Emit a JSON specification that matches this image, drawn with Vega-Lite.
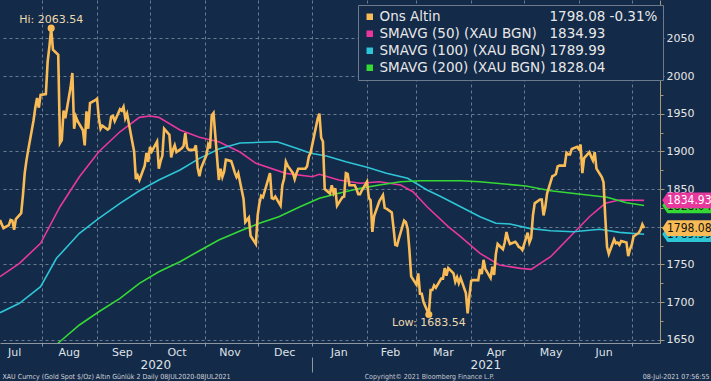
{
"$schema": "https://vega.github.io/schema/vega-lite/v6.json",
"width": 660, "height": 343,
"autosize": "none",
"padding": {"left": 0, "top": 0, "right": 51, "bottom": 38},
"background": "#132a49",
"config": {"view": {"stroke": null}, "font": "DejaVu Sans"},
"datasets": {
"gold": [
{"date":"2020-07-08","value":1809},{"date":"2020-07-09","value":1803},{"date":"2020-07-10","value":1798},{"date":"2020-07-13","value":1802},{"date":"2020-07-14","value":1809},{"date":"2020-07-15","value":1808},{"date":"2020-07-16","value":1796},{"date":"2020-07-17","value":1810},{"date":"2020-07-20","value":1818},{"date":"2020-07-21","value":1842},{"date":"2020-07-22","value":1871},{"date":"2020-07-23","value":1888},{"date":"2020-07-24","value":1902},{"date":"2020-07-27","value":1941},{"date":"2020-07-28","value":1958},{"date":"2020-07-29","value":1971},{"date":"2020-07-30","value":1958},{"date":"2020-07-31","value":1975},
{"date":"2020-08-03","value":1976},{"date":"2020-08-04","value":2019},{"date":"2020-08-05","value":2039},{"date":"2020-08-06","value":2063.54},{"date":"2020-08-07","value":2035},{"date":"2020-08-10","value":2028},{"date":"2020-08-11","value":1911},{"date":"2020-08-12","value":1915},{"date":"2020-08-13","value":1954},{"date":"2020-08-14","value":1944},{"date":"2020-08-17","value":1985},{"date":"2020-08-18","value":2004},{"date":"2020-08-19","value":1930},{"date":"2020-08-20","value":1946},{"date":"2020-08-21","value":1940},{"date":"2020-08-24","value":1928},{"date":"2020-08-25","value":1908},{"date":"2020-08-26","value":1953},{"date":"2020-08-27","value":1930},{"date":"2020-08-28","value":1964},{"date":"2020-08-31","value":1968},
{"date":"2020-09-01","value":1970},{"date":"2020-09-02","value":1944},{"date":"2020-09-03","value":1930},{"date":"2020-09-04","value":1934},{"date":"2020-09-07","value":1929},{"date":"2020-09-08","value":1931},{"date":"2020-09-09","value":1946},{"date":"2020-09-10","value":1947},{"date":"2020-09-11","value":1940},{"date":"2020-09-14","value":1956},{"date":"2020-09-15","value":1954},{"date":"2020-09-16","value":1959},{"date":"2020-09-17","value":1944},{"date":"2020-09-18","value":1950},{"date":"2020-09-21","value":1912},{"date":"2020-09-22","value":1900},{"date":"2020-09-23","value":1863},{"date":"2020-09-24","value":1868},{"date":"2020-09-25","value":1862},{"date":"2020-09-28","value":1881},{"date":"2020-09-29","value":1898},{"date":"2020-09-30","value":1886},
{"date":"2020-10-01","value":1906},{"date":"2020-10-02","value":1900},{"date":"2020-10-05","value":1913},{"date":"2020-10-06","value":1877},{"date":"2020-10-07","value":1887},{"date":"2020-10-08","value":1894},{"date":"2020-10-09","value":1930},{"date":"2020-10-12","value":1922},{"date":"2020-10-13","value":1892},{"date":"2020-10-14","value":1902},{"date":"2020-10-15","value":1908},{"date":"2020-10-16","value":1899},{"date":"2020-10-19","value":1904},{"date":"2020-10-20","value":1907},{"date":"2020-10-21","value":1924},{"date":"2020-10-22","value":1905},{"date":"2020-10-23","value":1902},{"date":"2020-10-26","value":1902},{"date":"2020-10-27","value":1908},{"date":"2020-10-28","value":1878},{"date":"2020-10-29","value":1867},{"date":"2020-10-30","value":1878},
{"date":"2020-11-02","value":1895},{"date":"2020-11-03","value":1909},{"date":"2020-11-04","value":1904},{"date":"2020-11-05","value":1948},{"date":"2020-11-06","value":1951},{"date":"2020-11-09","value":1862},{"date":"2020-11-10","value":1877},{"date":"2020-11-11","value":1866},{"date":"2020-11-12","value":1873},{"date":"2020-11-13","value":1889},{"date":"2020-11-16","value":1887},{"date":"2020-11-17","value":1880},{"date":"2020-11-18","value":1872},{"date":"2020-11-19","value":1866},{"date":"2020-11-20","value":1871},{"date":"2020-11-23","value":1837},{"date":"2020-11-24","value":1806},{"date":"2020-11-25","value":1809},{"date":"2020-11-26","value":1812},{"date":"2020-11-27","value":1788},{"date":"2020-11-30","value":1777},
{"date":"2020-12-01","value":1815},{"date":"2020-12-02","value":1831},{"date":"2020-12-03","value":1841},{"date":"2020-12-04","value":1839},{"date":"2020-12-07","value":1863},{"date":"2020-12-08","value":1871},{"date":"2020-12-09","value":1838},{"date":"2020-12-10","value":1837},{"date":"2020-12-11","value":1840},{"date":"2020-12-14","value":1828},{"date":"2020-12-15","value":1855},{"date":"2020-12-16","value":1864},{"date":"2020-12-17","value":1886},{"date":"2020-12-18","value":1881},{"date":"2020-12-21","value":1871},{"date":"2020-12-22","value":1863},{"date":"2020-12-23","value":1871},{"date":"2020-12-24","value":1877},{"date":"2020-12-28","value":1877},{"date":"2020-12-29","value":1880},{"date":"2020-12-30","value":1893},{"date":"2020-12-31","value":1898},
{"date":"2021-01-04","value":1943},{"date":"2021-01-05","value":1950},{"date":"2021-01-06","value":1918},{"date":"2021-01-07","value":1913},{"date":"2021-01-08","value":1850},{"date":"2021-01-11","value":1844},{"date":"2021-01-12","value":1855},{"date":"2021-01-13","value":1845},{"date":"2021-01-14","value":1851},{"date":"2021-01-15","value":1828},{"date":"2021-01-18","value":1839},{"date":"2021-01-19","value":1840},{"date":"2021-01-20","value":1871},{"date":"2021-01-21","value":1870},{"date":"2021-01-22","value":1855},{"date":"2021-01-25","value":1855},{"date":"2021-01-26","value":1850},{"date":"2021-01-27","value":1843},{"date":"2021-01-28","value":1843},{"date":"2021-01-29","value":1848},
{"date":"2021-02-01","value":1860},{"date":"2021-02-02","value":1838},{"date":"2021-02-03","value":1835},{"date":"2021-02-04","value":1793},{"date":"2021-02-05","value":1814},{"date":"2021-02-08","value":1834},{"date":"2021-02-09","value":1838},{"date":"2021-02-10","value":1842},{"date":"2021-02-11","value":1825},{"date":"2021-02-12","value":1824},{"date":"2021-02-15","value":1819},{"date":"2021-02-16","value":1798},{"date":"2021-02-17","value":1776},{"date":"2021-02-18","value":1775},{"date":"2021-02-19","value":1784},{"date":"2021-02-22","value":1808},{"date":"2021-02-23","value":1806},{"date":"2021-02-24","value":1797},{"date":"2021-02-25","value":1769},{"date":"2021-02-26","value":1734},
{"date":"2021-03-01","value":1723},{"date":"2021-03-02","value":1738},{"date":"2021-03-03","value":1711},{"date":"2021-03-04","value":1711},{"date":"2021-03-05","value":1700},{"date":"2021-03-08","value":1683.54},{"date":"2021-03-09","value":1716},{"date":"2021-03-10","value":1716},{"date":"2021-03-11","value":1722},{"date":"2021-03-12","value":1719},{"date":"2021-03-15","value":1731},{"date":"2021-03-16","value":1731},{"date":"2021-03-17","value":1745},{"date":"2021-03-18","value":1735},{"date":"2021-03-19","value":1745},{"date":"2021-03-22","value":1738},{"date":"2021-03-23","value":1727},{"date":"2021-03-24","value":1733},{"date":"2021-03-25","value":1725},{"date":"2021-03-26","value":1732},{"date":"2021-03-29","value":1712},{"date":"2021-03-30","value":1685},{"date":"2021-03-31","value":1708},
{"date":"2021-04-01","value":1728},{"date":"2021-04-02","value":1729},{"date":"2021-04-05","value":1729},{"date":"2021-04-06","value":1744},{"date":"2021-04-07","value":1737},{"date":"2021-04-08","value":1756},{"date":"2021-04-09","value":1744},{"date":"2021-04-12","value":1732},{"date":"2021-04-13","value":1747},{"date":"2021-04-14","value":1736},{"date":"2021-04-15","value":1764},{"date":"2021-04-16","value":1777},{"date":"2021-04-19","value":1770},{"date":"2021-04-20","value":1779},{"date":"2021-04-21","value":1793},{"date":"2021-04-22","value":1783},{"date":"2021-04-23","value":1777},{"date":"2021-04-26","value":1780},{"date":"2021-04-27","value":1777},{"date":"2021-04-28","value":1773},{"date":"2021-04-29","value":1772},{"date":"2021-04-30","value":1769},
{"date":"2021-05-03","value":1792},{"date":"2021-05-04","value":1779},{"date":"2021-05-05","value":1785},{"date":"2021-05-06","value":1815},{"date":"2021-05-07","value":1831},{"date":"2021-05-10","value":1836},{"date":"2021-05-11","value":1836},{"date":"2021-05-12","value":1815},{"date":"2021-05-13","value":1826},{"date":"2021-05-14","value":1844},{"date":"2021-05-17","value":1867},{"date":"2021-05-18","value":1868},{"date":"2021-05-19","value":1870},{"date":"2021-05-20","value":1880},{"date":"2021-05-21","value":1881},{"date":"2021-05-24","value":1881},{"date":"2021-05-25","value":1898},{"date":"2021-05-26","value":1896},{"date":"2021-05-27","value":1896},{"date":"2021-05-28","value":1903},{"date":"2021-05-31","value":1906},
{"date":"2021-06-01","value":1903},{"date":"2021-06-02","value":1909},{"date":"2021-06-03","value":1871},{"date":"2021-06-04","value":1891},{"date":"2021-06-07","value":1899},{"date":"2021-06-08","value":1893},{"date":"2021-06-09","value":1888},{"date":"2021-06-10","value":1899},{"date":"2021-06-11","value":1877},{"date":"2021-06-14","value":1866},{"date":"2021-06-15","value":1859},{"date":"2021-06-16","value":1812},{"date":"2021-06-17","value":1773},{"date":"2021-06-18","value":1764},{"date":"2021-06-21","value":1783},{"date":"2021-06-22","value":1778},{"date":"2021-06-23","value":1779},{"date":"2021-06-24","value":1776},{"date":"2021-06-25","value":1781},{"date":"2021-06-28","value":1779},{"date":"2021-06-29","value":1761},{"date":"2021-06-30","value":1770},
{"date":"2021-07-01","value":1776},{"date":"2021-07-02","value":1787},{"date":"2021-07-05","value":1792},{"date":"2021-07-06","value":1796},{"date":"2021-07-07","value":1803},{"date":"2021-07-08","value":1798.08}
],
"sma": [
{"date":"2020-07-08","series":"SMAVG (50) (XAU BGN)","value":1733.6},{"date":"2020-07-19","series":"SMAVG (50) (XAU BGN)","value":1751.4},{"date":"2020-07-31","series":"SMAVG (50) (XAU BGN)","value":1777.9},{"date":"2020-08-11","series":"SMAVG (50) (XAU BGN)","value":1826.5},{"date":"2020-08-22","series":"SMAVG (50) (XAU BGN)","value":1866.3},{"date":"2020-09-02","series":"SMAVG (50) (XAU BGN)","value":1899.5},{"date":"2020-09-14","series":"SMAVG (50) (XAU BGN)","value":1926},{"date":"2020-09-25","series":"SMAVG (50) (XAU BGN)","value":1945.1},{"date":"2020-10-01","series":"SMAVG (50) (XAU BGN)","value":1946.9},{"date":"2020-10-06","series":"SMAVG (50) (XAU BGN)","value":1945.1},{"date":"2020-10-18","series":"SMAVG (50) (XAU BGN)","value":1928.3},{"date":"2020-10-29","series":"SMAVG (50) (XAU BGN)","value":1918.6},{"date":"2020-11-09","series":"SMAVG (50) (XAU BGN)","value":1912.8},{"date":"2020-11-21","series":"SMAVG (50) (XAU BGN)","value":1899.1},{"date":"2020-11-30","series":"SMAVG (50) (XAU BGN)","value":1884.1},{"date":"2020-12-17","series":"SMAVG (50) (XAU BGN)","value":1870.8},{"date":"2021-01-01","series":"SMAVG (50) (XAU BGN)","value":1866.3},{"date":"2021-01-05","series":"SMAVG (50) (XAU BGN)","value":1869.5},{"date":"2021-01-16","series":"SMAVG (50) (XAU BGN)","value":1861.9},{"date":"2021-01-28","series":"SMAVG (50) (XAU BGN)","value":1857.6},{"date":"2021-02-08","series":"SMAVG (50) (XAU BGN)","value":1859.7},{"date":"2021-02-20","series":"SMAVG (50) (XAU BGN)","value":1855.3},{"date":"2021-02-27","series":"SMAVG (50) (XAU BGN)","value":1846.4},{"date":"2021-03-07","series":"SMAVG (50) (XAU BGN)","value":1826.5},{"date":"2021-03-19","series":"SMAVG (50) (XAU BGN)","value":1800},{"date":"2021-03-26","series":"SMAVG (50) (XAU BGN)","value":1786.7},{"date":"2021-04-06","series":"SMAVG (50) (XAU BGN)","value":1764.6},{"date":"2021-04-17","series":"SMAVG (50) (XAU BGN)","value":1749.1},{"date":"2021-04-29","series":"SMAVG (50) (XAU BGN)","value":1744.7},{"date":"2021-05-05","series":"SMAVG (50) (XAU BGN)","value":1743.4},{"date":"2021-05-16","series":"SMAVG (50) (XAU BGN)","value":1760.1},{"date":"2021-05-27","series":"SMAVG (50) (XAU BGN)","value":1786.7},{"date":"2021-06-07","series":"SMAVG (50) (XAU BGN)","value":1813.2},{"date":"2021-06-16","series":"SMAVG (50) (XAU BGN)","value":1831},{"date":"2021-06-24","series":"SMAVG (50) (XAU BGN)","value":1835.4},{"date":"2021-07-08","series":"SMAVG (50) (XAU BGN)","value":1834.93},
{"date":"2020-07-08","series":"SMAVG (100) (XAU BGN)","value":1685.8},{"date":"2020-07-19","series":"SMAVG (100) (XAU BGN)","value":1698.3},{"date":"2020-07-31","series":"SMAVG (100) (XAU BGN)","value":1720.3},{"date":"2020-08-09","series":"SMAVG (100) (XAU BGN)","value":1758},{"date":"2020-08-22","series":"SMAVG (100) (XAU BGN)","value":1791.2},{"date":"2020-09-02","series":"SMAVG (100) (XAU BGN)","value":1811.1},{"date":"2020-09-14","series":"SMAVG (100) (XAU BGN)","value":1831},{"date":"2020-09-25","series":"SMAVG (100) (XAU BGN)","value":1847.7},{"date":"2020-10-06","series":"SMAVG (100) (XAU BGN)","value":1861.9},{"date":"2020-10-18","series":"SMAVG (100) (XAU BGN)","value":1875.2},{"date":"2020-10-29","series":"SMAVG (100) (XAU BGN)","value":1890.7},{"date":"2020-11-09","series":"SMAVG (100) (XAU BGN)","value":1903.1},{"date":"2020-11-21","series":"SMAVG (100) (XAU BGN)","value":1911},{"date":"2020-12-02","series":"SMAVG (100) (XAU BGN)","value":1912},{"date":"2020-12-12","series":"SMAVG (100) (XAU BGN)","value":1912.8},{"date":"2020-12-23","series":"SMAVG (100) (XAU BGN)","value":1904},{"date":"2020-12-31","series":"SMAVG (100) (XAU BGN)","value":1897.4},{"date":"2021-01-09","series":"SMAVG (100) (XAU BGN)","value":1893.8},{"date":"2021-01-20","series":"SMAVG (100) (XAU BGN)","value":1886.2},{"date":"2021-02-01","series":"SMAVG (100) (XAU BGN)","value":1878.8},{"date":"2021-02-12","series":"SMAVG (100) (XAU BGN)","value":1870.8},{"date":"2021-02-24","series":"SMAVG (100) (XAU BGN)","value":1864.2},{"date":"2021-03-07","series":"SMAVG (100) (XAU BGN)","value":1848.7},{"date":"2021-03-15","series":"SMAVG (100) (XAU BGN)","value":1839.8},{"date":"2021-03-26","series":"SMAVG (100) (XAU BGN)","value":1826.5},{"date":"2021-04-06","series":"SMAVG (100) (XAU BGN)","value":1813.2},{"date":"2021-04-15","series":"SMAVG (100) (XAU BGN)","value":1804.5},{"date":"2021-04-23","series":"SMAVG (100) (XAU BGN)","value":1803.6},{"date":"2021-05-04","series":"SMAVG (100) (XAU BGN)","value":1797.8},{"date":"2021-05-16","series":"SMAVG (100) (XAU BGN)","value":1794.6},{"date":"2021-05-29","series":"SMAVG (100) (XAU BGN)","value":1793.3},{"date":"2021-06-13","series":"SMAVG (100) (XAU BGN)","value":1796.5},{"date":"2021-06-24","series":"SMAVG (100) (XAU BGN)","value":1792.5},{"date":"2021-07-08","series":"SMAVG (100) (XAU BGN)","value":1789.99},
{"date":"2020-08-09","series":"SMAVG (200) (XAU BGN)","value":1643.5},{"date":"2020-08-12","series":"SMAVG (200) (XAU BGN)","value":1649.6},{"date":"2020-08-22","series":"SMAVG (200) (XAU BGN)","value":1669.5},{"date":"2020-09-02","series":"SMAVG (200) (XAU BGN)","value":1687.1},{"date":"2020-09-14","series":"SMAVG (200) (XAU BGN)","value":1704.9},{"date":"2020-09-25","series":"SMAVG (200) (XAU BGN)","value":1724.8},{"date":"2020-10-06","series":"SMAVG (200) (XAU BGN)","value":1740.2},{"date":"2020-10-18","series":"SMAVG (200) (XAU BGN)","value":1753.5},{"date":"2020-10-29","series":"SMAVG (200) (XAU BGN)","value":1768.1},{"date":"2020-11-09","series":"SMAVG (200) (XAU BGN)","value":1782.3},{"date":"2020-11-21","series":"SMAVG (200) (XAU BGN)","value":1794.2},{"date":"2020-12-02","series":"SMAVG (200) (XAU BGN)","value":1804.5},{"date":"2020-12-13","series":"SMAVG (200) (XAU BGN)","value":1813.2},{"date":"2020-12-25","series":"SMAVG (200) (XAU BGN)","value":1826.5},{"date":"2021-01-05","series":"SMAVG (200) (XAU BGN)","value":1837.7},{"date":"2021-01-16","series":"SMAVG (200) (XAU BGN)","value":1844.3},{"date":"2021-01-28","series":"SMAVG (200) (XAU BGN)","value":1850.9},{"date":"2021-02-08","series":"SMAVG (200) (XAU BGN)","value":1855.3},{"date":"2021-02-20","series":"SMAVG (200) (XAU BGN)","value":1859.7},{"date":"2021-03-03","series":"SMAVG (200) (XAU BGN)","value":1861},{"date":"2021-03-26","series":"SMAVG (200) (XAU BGN)","value":1861},{"date":"2021-04-06","series":"SMAVG (200) (XAU BGN)","value":1859.7},{"date":"2021-05-02","series":"SMAVG (200) (XAU BGN)","value":1854},{"date":"2021-05-16","series":"SMAVG (200) (XAU BGN)","value":1847.7},{"date":"2021-06-02","series":"SMAVG (200) (XAU BGN)","value":1843},{"date":"2021-06-17","series":"SMAVG (200) (XAU BGN)","value":1839},{"date":"2021-06-28","series":"SMAVG (200) (XAU BGN)","value":1831.8},{"date":"2021-07-08","series":"SMAVG (200) (XAU BGN)","value":1828.04}
],
"hilo": [
{"date":"2020-08-06","value":2063.54,"label":"Hi: 2063.54","kind":"hi"},
{"date":"2021-03-08","value":1683.54,"label":"Low: 1683.54","kind":"low"}
],
"tags": [
{"series":"SMAVG (200) (XAU BGN)","value":1828.04},
{"series":"SMAVG (100) (XAU BGN)","value":1789.99},
{"series":"SMAVG (50) (XAU BGN)","value":1834.93},
{"series":"Ons Altin","value":1798.08}
]
},
"layer": [
{
"data": {"name": "sma"},
"mark": {"type": "line", "strokeWidth": 1.6, "clip": true},
"encoding": {
"x": {"field": "date", "type": "temporal",
"scale": {"domain": [{"year":2020,"month":7,"date":8},{"year":2021,"month":7,"date":17}]},
"axis": {"orient": "bottom", "values": [{"year":2020,"month":8,"date":1},{"year":2020,"month":9,"date":1},{"year":2020,"month":10,"date":1},{"year":2020,"month":11,"date":1},{"year":2020,"month":12,"date":1},{"year":2021,"month":1,"date":1},{"year":2021,"month":2,"date":1},{"year":2021,"month":3,"date":1},{"year":2021,"month":4,"date":1},{"year":2021,"month":5,"date":1},{"year":2021,"month":6,"date":1},{"year":2021,"month":7,"date":1}],
"labels": false, "ticks": true, "tickSize": 3, "tickColor": "#8f96a0", "domain": true, "domainColor": "#8f96a0",
"grid": true, "gridColor": "#6a7a90", "gridDash": [3,3], "gridOpacity": 1,
"title": "XAU Curncy (Gold Spot   $/Oz) Altın Günlük 2  Daily 08JUL2020-08JUL2021",
"titleX": 2, "titleY": 33, "titleAlign": "left", "titleBaseline": "middle", "titleAngle": 0,
"titleFont": "DejaVu Sans Condensed, sans-serif", "titleFontSize": 7, "titleFontWeight": "normal", "titleColor": "#cfd3d8"}},
"y": {"field": "value", "type": "quantitative",
"scale": {"domain": [1645.6, 2100.9], "nice": false, "zero": false},
"axis": {"orient": "right", "values": [1650,1700,1750,1800,1850,1900,1950,2000,2050], "format": "d",
"grid": true, "gridColor": "#6a7a90", "gridDash": [3,3], "gridOpacity": 1,
"domain": true, "domainColor": "#a89a78", "ticks": true, "tickSize": 4, "tickColor": "#a89a78",
"labelColor": "#e6e6e6", "labelFontSize": 11, "labelPadding": 2, "labelFlush": false, "title": null}},
"color": {"field": "series", "type": "nominal",
"scale": {"domain": ["Ons Altin", "SMAVG (50) (XAU BGN)", "SMAVG (100) (XAU BGN)", "SMAVG (200) (XAU BGN)", "1798.08 -0.31%", "1834.93", "1789.99", "1828.04"],
"range": ["#f9bb55", "#e8389e", "#2ec5d6", "#35d935", "#f9bb55", "#e8389e", "#2ec5d6", "#35d935"]},
"legend": {"orient": "none", "legendX": 358, "legendY": 5, "title": null,
"values": ["1798.08 -0.31%", "1834.93", "1789.99", "1828.04"],
"fillColor": "#132a49", "strokeColor": "#6d7a8e", "padding": 5,
"symbolType": "square", "symbolSize": 42, "symbolStrokeWidth": 0, "symbolOpacity": 0,
"labelFont": "DejaVu Sans", "labelFontSize": 13.5, "labelColor": "#e8e8e8", "labelLimit": 300, "labelOffset": 173, "rowPadding": 2,
"encode": {"symbols": {"update": {"opacity": {"value": 0}}}}}},
"opacity": {"field": "series", "type": "nominal",
"scale": {"domain": ["Ons Altin", "SMAVG (50) (XAU BGN)", "SMAVG (100) (XAU BGN)", "SMAVG (200) (XAU BGN)"], "range": [1, 1, 1, 1]},
"legend": {"orient": "none", "legendX": 358, "legendY": 5, "title": null,
"fillColor": null, "strokeColor": null, "padding": 5,
"symbolType": "square", "symbolSize": 42, "symbolStrokeWidth": 0,
"labelFont": "DejaVu Sans", "labelFontSize": 13.5, "labelColor": "#e8e8e8", "labelLimit": 300, "labelOffset": 3, "rowPadding": 2,
"encode": {"symbols": {"update": {"fill": {"scale": "color", "field": "value"}, "strokeWidth": {"value": 0}, "opacity": {"value": 1}}}}}}
}
},
{
"data": {"name": "gold"},
"mark": {"type": "line", "strokeWidth": 2.6, "clip": true},
"encoding": {
"x": {"field": "date", "type": "temporal",
"scale": {"domain": [{"year":2020,"month":7,"date":8},{"year":2021,"month":7,"date":17}]},
"axis": {"orient": "bottom", "values": [{"year":2020,"month":7,"date":16},{"year":2020,"month":8,"date":16},{"year":2020,"month":9,"date":15},{"year":2020,"month":10,"date":16},{"year":2020,"month":11,"date":15},{"year":2020,"month":12,"date":16},{"year":2021,"month":1,"date":16},{"year":2021,"month":2,"date":14},{"year":2021,"month":3,"date":16},{"year":2021,"month":4,"date":15},{"year":2021,"month":5,"date":16},{"year":2021,"month":6,"date":15}],
"format": "%b", "ticks": false, "domain": false, "grid": false, "labelFontSize": 11, "labelColor": "#dfe2e6",
"labelPadding": 3, "labelFlush": false, "labelOverlap": false,
"title": "Copyright© 2021 Bloomberg Finance L.P.", "titleX": 429, "titleY": 33, "titleAlign": "center", "titleBaseline": "middle", "titleAngle": 0,
"titleFont": "DejaVu Sans Condensed, sans-serif", "titleFontSize": 7, "titleFontWeight": "normal", "titleColor": "#c4c8ce"}},
"y": {"field": "value", "type": "quantitative",
"scale": {"domain": [1645.6, 2100.9], "nice": false, "zero": false},
"axis": {"orient": "right", "values": [1675,1725,1775,1825,1875,1925,1975,2025,2075], "labels": false, "grid": false, "domain": false, "ticks": true, "tickSize": 3, "tickColor": "#a89a78", "title": null}},
"color": {"datum": "Ons Altin", "type": "nominal",
"scale": {"domain": ["Ons Altin", "SMAVG (50) (XAU BGN)", "SMAVG (100) (XAU BGN)", "SMAVG (200) (XAU BGN)", "1798.08 -0.31%", "1834.93", "1789.99", "1828.04"],
"range": ["#f9bb55", "#e8389e", "#2ec5d6", "#35d935", "#f9bb55", "#e8389e", "#2ec5d6", "#35d935"]}}
}
},
{
"data": {"name": "hilo"},
"mark": {"type": "point", "filled": true, "size": 50, "opacity": 1, "fill": "#f9bb55", "strokeWidth": 0},
"encoding": {
"x": {"field": "date", "type": "temporal",
"scale": {"domain": [{"year":2020,"month":7,"date":8},{"year":2021,"month":7,"date":17}]},
"axis": {"orient": "bottom", "offset": 14, "values": [{"year":2020,"month":10,"date":4},{"year":2021,"month":1,"date":1},{"year":2021,"month":4,"date":9}],
"labelExpr": "month(datum.value) == 0 ? '' : timeFormat(datum.value, '%Y')",
"ticks": true, "tickSize": 15, "tickColor": "#8f96a0",
"tickOpacity": {"condition": {"test": "month(datum.value) == 0", "value": 1}, "value": 0},
"domain": false, "grid": false, "labelFontSize": 12, "labelColor": "#dfe2e6", "labelPadding": -13, "labelFlush": false, "labelOverlap": false,
"title": "08-Jul-2021 07:56:55", "titleX": 709, "titleY": 19, "titleAlign": "right", "titleBaseline": "middle", "titleAngle": 0,
"titleFont": "DejaVu Sans Condensed, sans-serif", "titleFontSize": 7, "titleFontWeight": "normal", "titleColor": "#cfd3d8"}},
"y": {"field": "value", "type": "quantitative", "scale": {"domain": [1645.6, 2100.9], "nice": false, "zero": false}, "axis": null}
}
},
{
"data": {"name": "hilo"},
"transform": [{"filter": "datum.kind == 'hi'"}],
"mark": {"type": "text", "dy": -8, "fontSize": 11, "font": "DejaVu Sans", "fill": "#ecd9ad", "align": "center", "baseline": "middle"},
"encoding": {
"x": {"field": "date", "type": "temporal", "scale": {"domain": [{"year":2020,"month":7,"date":8},{"year":2021,"month":7,"date":17}]}, "axis": null},
"y": {"field": "value", "type": "quantitative", "scale": {"domain": [1645.6, 2100.9], "nice": false, "zero": false}, "axis": null},
"text": {"field": "label"}
}
},
{
"data": {"name": "hilo"},
"transform": [{"filter": "datum.kind == 'low'"}],
"mark": {"type": "text", "dy": 9, "fontSize": 11, "font": "DejaVu Sans", "fill": "#ecd9ad", "align": "center", "baseline": "middle"},
"encoding": {
"x": {"field": "date", "type": "temporal", "scale": {"domain": [{"year":2020,"month":7,"date":8},{"year":2021,"month":7,"date":17}]}, "axis": null},
"y": {"field": "value", "type": "quantitative", "scale": {"domain": [1645.6, 2100.9], "nice": false, "zero": false}, "axis": null},
"text": {"field": "label"}
}
},
{
"data": {"name": "tags"},
"transform": [{"filter": "datum.series == 'SMAVG (200) (XAU BGN)' || datum.series == 'SMAVG (100) (XAU BGN)'"}],
"mark": {"type": "point", "shape": "M-1,0L-0.8,-0.3L1,-0.3L1,0.3L-0.8,0.3Z", "filled": true, "size": 2704, "opacity": 1, "strokeWidth": 0},
"encoding": {
"x": {"datum": {"year":2021,"month":8,"date":2}, "type": "temporal", "scale": {"domain": [{"year":2020,"month":7,"date":8},{"year":2021,"month":7,"date":17}]}, "axis": null},
"y": {"field": "value", "type": "quantitative", "scale": {"domain": [1645.6, 2100.9], "nice": false, "zero": false}, "axis": null},
"fill": {"field": "series", "type": "nominal", "scale": {"domain": ["Ons Altin","SMAVG (50) (XAU BGN)","SMAVG (100) (XAU BGN)","SMAVG (200) (XAU BGN)"], "range": ["#f9bb55","#e8389e","#2ec5d6","#35d935"]}, "legend": null}
}
},
{
"data": {"name": "tags"},
"transform": [{"filter": "datum.series == 'SMAVG (200) (XAU BGN)' || datum.series == 'SMAVG (100) (XAU BGN)'"}],
"mark": {"type": "text", "dx": 1, "fontSize": 12, "font": "DejaVu Sans Condensed, sans-serif", "align": "center", "baseline": "middle"},
"encoding": {
"x": {"datum": {"year":2021,"month":8,"date":2}, "type": "temporal", "scale": {"domain": [{"year":2020,"month":7,"date":8},{"year":2021,"month":7,"date":17}]}, "axis": null},
"y": {"field": "value", "type": "quantitative", "scale": {"domain": [1645.6, 2100.9], "nice": false, "zero": false}, "axis": null},
"text": {"field": "value", "type": "quantitative", "format": ".2f"},
"fill": {"value": "#141414"}
}
},
{
"data": {"name": "tags"},
"transform": [{"filter": "datum.series == 'SMAVG (50) (XAU BGN)' || datum.series == 'Ons Altin'"}],
"mark": {"type": "point", "shape": "M-1,0L-0.8,-0.3L1,-0.3L1,0.3L-0.8,0.3Z", "filled": true, "size": 2704, "opacity": 1, "strokeWidth": 0},
"encoding": {
"x": {"datum": {"year":2021,"month":8,"date":2}, "type": "temporal", "scale": {"domain": [{"year":2020,"month":7,"date":8},{"year":2021,"month":7,"date":17}]}, "axis": null},
"y": {"field": "value", "type": "quantitative", "scale": {"domain": [1645.6, 2100.9], "nice": false, "zero": false}, "axis": null},
"fill": {"field": "series", "type": "nominal", "scale": {"domain": ["Ons Altin","SMAVG (50) (XAU BGN)","SMAVG (100) (XAU BGN)","SMAVG (200) (XAU BGN)"], "range": ["#f9bb55","#e8389e","#2ec5d6","#35d935"]}, "legend": null}
}
},
{
"data": {"name": "tags"},
"transform": [{"filter": "datum.series == 'SMAVG (50) (XAU BGN)' || datum.series == 'Ons Altin'"}],
"mark": {"type": "text", "dx": 1, "fontSize": 12, "font": "DejaVu Sans Condensed, sans-serif", "align": "center", "baseline": "middle"},
"encoding": {
"x": {"datum": {"year":2021,"month":8,"date":2}, "type": "temporal", "scale": {"domain": [{"year":2020,"month":7,"date":8},{"year":2021,"month":7,"date":17}]}, "axis": null},
"y": {"field": "value", "type": "quantitative", "scale": {"domain": [1645.6, 2100.9], "nice": false, "zero": false}, "axis": null},
"text": {"field": "value", "type": "quantitative", "format": ".2f"},
"fill": {"condition": {"test": "datum.series == 'SMAVG (50) (XAU BGN)'", "value": "#ffffff"}, "value": "#141414"}
}
}
],
"resolve": {"axis": {"x": "independent", "y": "independent"}}
}
